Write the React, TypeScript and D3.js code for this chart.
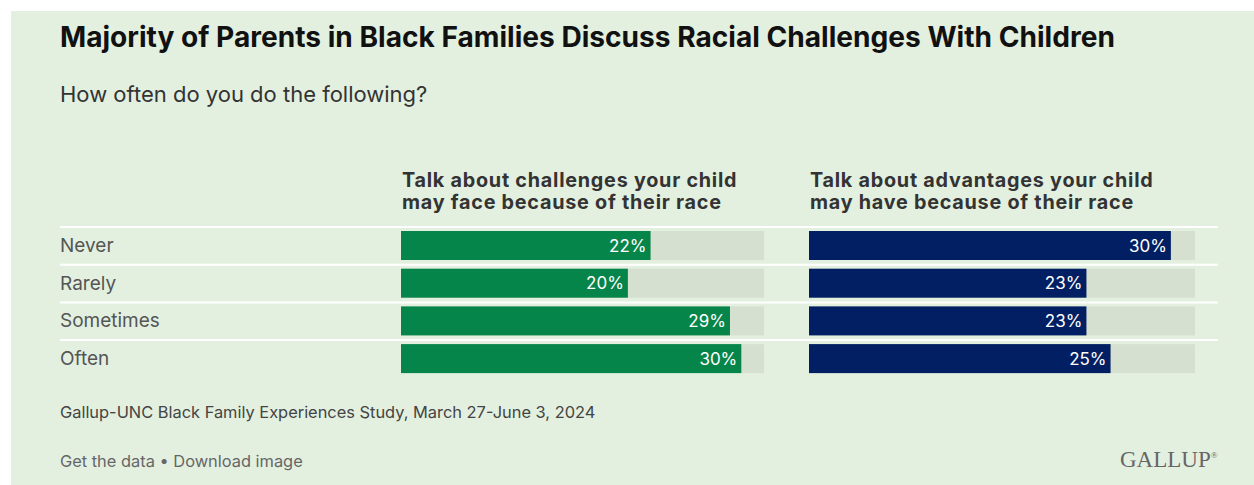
import React from "react";
import * as d3 from "d3";

const categories = ["Never", "Rarely", "Sometimes", "Often"];
const challengesValues = [22, 20, 29, 30];
const advantagesValues = [30, 23, 23, 25];
const panelTitles = [
  ["Talk about challenges your child", "may face because of their race"],
  ["Talk about advantages your child", "may have because of their race"],
];
const titleText = "Majority of Parents in Black Families Discuss Racial Challenges With Children";
const subtitleText = "How often do you do the following?";
const sourceText = "Gallup-UNC Black Family Experiences Study, March 27-June 3, 2024";
const footerText = "Get the data \u2022 Download image";

const W = 1254;
const H = 485;
const FONT = "Inter, 'Noto Sans', sans-serif";

export default function App() {
  const y = d3.scaleBand<string>().domain(categories).range([226, 226 + 4 * 37.7]).padding(0);
  const xLeft = d3.scaleLinear().domain([0, 32]).range([401, 764]);
  const xRight = d3.scaleLinear().domain([0, 32]).range([809, 1195]);
  const panels = [
    { x: xLeft, values: challengesValues, color: "#06854a", titles: panelTitles[0] },
    { x: xRight, values: advantagesValues, color: "#031f63", titles: panelTitles[1] },
  ];
  const barOffset = 5;
  const barH = 29;
  return (
    <div>
      <style>{"body{margin:0}"}</style>
      <svg width={W} height={H} style={{ display: "block" }} fontFamily={FONT}>
        <rect x={0} y={0} width={W} height={H} fill="#ffffff" />
        <rect x={11} y={11} width={W - 11} height={H - 11} fill="#e3f0e0" />
        <text x={60} y={47} fontSize={28.1} fontWeight={700} fill="#111">{titleText}</text>
        <text x={60} y={102} fontSize={22} fill="#333">{subtitleText}</text>
        {panels.map((p, pi) => (
          <g key={pi}>
            {p.titles.map((t, ti) => (
              <text key={ti} x={p.x(0) + 1} y={187 + ti * 21.5} fontSize={19.8} fontWeight={700} letterSpacing={0.75} fill="#333">{t}</text>
            ))}
          </g>
        ))}
        {categories.map((c) => (
          <line key={c} x1={60} x2={1218} y1={(y(c) as number) + 1} y2={(y(c) as number) + 1} stroke="#ffffff" strokeWidth={2} />
        ))}
        {categories.map((c) => (
          <text key={c} x={60} y={(y(c) as number) + barOffset + barH / 2 + 6.5} fontSize={19} fill="#555">{c}</text>
        ))}
        {panels.map((p, pi) => (
          <g key={pi}>
            {categories.map((c, i) => {
              const by = (y(c) as number) + barOffset;
              const v = p.values[i];
              return (
                <g key={c}>
                  <rect x={p.x(0)} y={by} width={p.x(32) - p.x(0)} height={barH} fill="#d5e0d0" />
                  <rect x={p.x(0)} y={by} width={p.x(v) - p.x(0)} height={barH} fill={p.color} />
                  <text x={p.x(v) - 4} y={by + barH / 2 + 6} fontSize={17} fill="#ffffff" textAnchor="end">{v}%</text>
                </g>
              );
            })}
          </g>
        ))}
        <text x={60} y={418} fontSize={16.4} fill="#444">{sourceText}</text>
        <text x={60} y={467} fontSize={16.4} fill="#666">{footerText}</text>
        <text x={1120} y={467} fontSize={23} fontFamily="'Liberation Serif', 'DejaVu Serif', serif" fill="#666">GALLUP<tspan fontSize={9} dy={-9}>®</tspan></text>
      </svg>
    </div>
  );
}
